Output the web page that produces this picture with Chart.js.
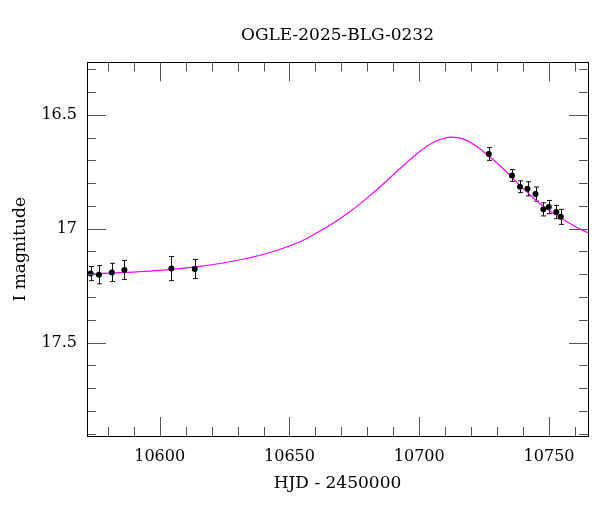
<!DOCTYPE html>
<html>
<head>
<meta charset="utf-8">
<script src="https://cdn.jsdelivr.net/npm/chart.js@4"></script>
<style>
  html, body { margin: 0; padding: 0; background: #fff; }
  #wrap { width: 600px; height: 512px; }
</style>
</head>
<body>
<div id="wrap"><canvas id="lc" width="600" height="512"></canvas></div>
<script>
// OGLE photometry (HJD - 2450000, I mag, error)
const obsHjd = [10573.4, 10576.6, 10581.6, 10586.4, 10604.5, 10613.5,
  10726.8, 10735.7, 10738.8, 10741.7, 10744.8, 10747.8, 10749.9, 10752.8, 10754.5];
const obsMag = [17.197, 17.202, 17.192, 17.181, 17.175, 17.177,
  16.672, 16.766, 16.816, 16.825, 16.848, 16.915, 16.905, 16.927, 16.948];
const obsErr = [0.031, 0.040, 0.040, 0.042, 0.053, 0.042,
  0.028, 0.026, 0.026, 0.031, 0.031, 0.029, 0.029, 0.029, 0.033];

// model curve
const modelHjd = [10572, 10600, 10615.4, 10628.2, 10641.1, 10654.0, 10660.4, 10666.8,
  10673.2, 10679.6, 10686.0, 10692.4, 10698.9, 10705.3, 10712.4, 10716.9, 10720.7,
  10727.2, 10733.6, 10740.0, 10746.4, 10752.9, 10759.2, 10765];
const modelMag = [17.200, 17.183, 17.165, 17.143, 17.109, 17.057, 17.019, 16.976,
  16.926, 16.868, 16.805, 16.738, 16.673, 16.622, 16.598, 16.606, 16.628,
  16.684, 16.750, 16.823, 16.889, 16.941, 16.985, 17.018];

// axes
const xMin = 10572, xMax = 10765;
const yMin = 16.27, yMax = 17.91;
const xMajor = [10600, 10650, 10700, 10750];
const yMajor = [16.5, 17, 17.5];
const xMinorStep = 10, yMinorStep = 0.1;

const serif = "'DejaVu Serif', 'Liberation Serif', serif";
Chart.defaults.font.family = serif;
Chart.defaults.color = "#000";

// frame, inward ticks on all four sides, and error bars
const framePlugin = {
  id: "frame",
  beforeDatasetsDraw(chart) {
    const { ctx, scales } = chart;
    const xs = scales.x, ys = scales.y;
    ctx.save();
    ctx.strokeStyle = "#111";
    ctx.lineWidth = 1;
    obsHjd.forEach((t, i) => {
      const px = Math.round(xs.getPixelForValue(t)) + 0.5;
      const top = ys.getPixelForValue(obsMag[i] - obsErr[i]);
      const bot = ys.getPixelForValue(obsMag[i] + obsErr[i]);
      ctx.beginPath();
      ctx.moveTo(px, top); ctx.lineTo(px, bot);
      ctx.moveTo(px - 2.5, top); ctx.lineTo(px + 2.5, top);
      ctx.moveTo(px - 2.5, bot); ctx.lineTo(px + 2.5, bot);
      ctx.stroke();
    });
    ctx.restore();
  },
  afterDraw(chart) {
    const { ctx, chartArea: a, scales } = chart;
    const xs = scales.x, ys = scales.y;
    ctx.save();
    ctx.lineWidth = 1;
    ctx.strokeStyle = "#555";
    const isMajor = (v, list) => list.some((m) => Math.abs(m - v) < 1e-6);
    ctx.beginPath();
    for (let v = Math.ceil(xMin / xMinorStep) * xMinorStep; v <= xMax; v += xMinorStep) {
      const len = isMajor(v, xMajor) ? 19 : 9;
      const px = Math.round(xs.getPixelForValue(v)) + 0.5;
      ctx.moveTo(px, a.bottom); ctx.lineTo(px, a.bottom - len);
      ctx.moveTo(px, a.top); ctx.lineTo(px, a.top + len);
    }
    for (let k = Math.ceil(yMin / yMinorStep); k * yMinorStep <= yMax; k++) {
      const v = Math.round(k * yMinorStep * 10) / 10;
      const len = isMajor(v, yMajor) ? 19 : 9;
      const py = Math.round(ys.getPixelForValue(v)) + 0.5;
      ctx.moveTo(a.left, py); ctx.lineTo(a.left + len, py);
      ctx.moveTo(a.right, py); ctx.lineTo(a.right - len, py);
    }
    ctx.stroke();
    ctx.strokeStyle = "#000";
    ctx.strokeRect(Math.round(a.left) + 0.5, Math.round(a.top) + 0.5,
      Math.round(a.right - a.left), Math.round(a.bottom - a.top));
    ctx.restore();
  },
};

new Chart(document.getElementById("lc"), {
  type: "scatter",
  data: {
    datasets: [
      {
        label: "OGLE",
        data: obsHjd.map((t, i) => ({ x: t, y: obsMag[i] })),
        pointRadius: 3,
        pointBackgroundColor: "#000",
        pointBorderColor: "#000",
        pointBorderWidth: 0,
        order: 0,
      },
      {
        label: "model",
        data: modelHjd.map((t, i) => ({ x: t, y: modelMag[i] })),
        showLine: true,
        cubicInterpolationMode: "monotone",
        borderColor: "#ff00ff",
        borderWidth: 1.2,
        pointRadius: 0,
        order: 1,
      },
    ],
  },
  options: {
    responsive: false,
    animation: false,
    layout: { padding: { left: 0, right: 12, top: 0, bottom: 0 } },
    plugins: {
      legend: { display: false },
      tooltip: { enabled: false },
      title: {
        display: true,
        text: "OGLE-2025-BLG-0232",
        fullSize: false,
        color: "#000",
        font: { family: serif, size: 17, weight: "normal" },
        padding: { top: 25, bottom: 17 },
      },
    },
    scales: {
      x: {
        type: "linear",
        min: xMin,
        max: xMax,
        grid: { display: false, drawTicks: false },
        border: { display: false },
        ticks: {
          stepSize: 50,
          includeBounds: false,
          padding: 11,
          maxRotation: 0,
          font: { size: 16 },
          callback: (v) => String(v),
        },
        title: {
          display: true,
          text: "HJD - 2450000",
          font: { size: 17 },
          padding: { top: 0, bottom: 18 },
        },
        afterFit: (s) => { s.height = 76; },
      },
      y: {
        type: "linear",
        reverse: true,
        min: yMin,
        max: yMax,
        grid: { display: false, drawTicks: false },
        border: { display: false },
        ticks: {
          stepSize: 0.5,
          includeBounds: false,
          padding: 10,
          font: { size: 16 },
          callback: (v) => String(Math.round(v * 10) / 10),
        },
        title: {
          display: true,
          text: "I magnitude",
          font: { size: 17 },
          padding: { top: 10, bottom: 0 },
        },
        afterFit: (s) => { s.width = 87; },
      },
    },
  },
  plugins: [framePlugin],
});
</script>
</body>
</html>
